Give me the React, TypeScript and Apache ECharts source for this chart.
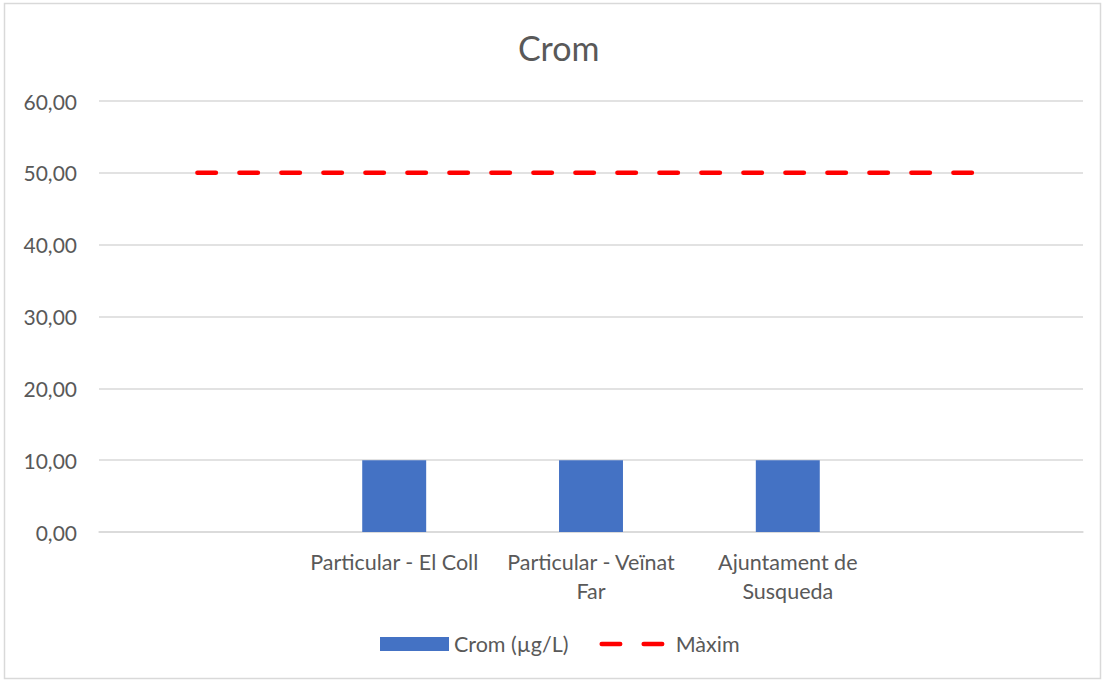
import React, { useEffect, useRef } from "react";
import * as echarts from "echarts";

const categories = ["", "Particular - El Coll", "Particular - Veïnat\nFar", "Ajuntament de\nSusqueda", ""];
const cromValues: (number | string)[] = ["-", 10, 10, 10, "-"];
const maximValues = [50, 50, 50, 50, 50];
const yMin = 0;
const yMax = 60;
const yInterval = 10;

const FONT = "Lato, 'Open Sans', sans-serif";
const TEXT = "#595959";

export default function App() {
  const ref = useRef<HTMLDivElement>(null);
  useEffect(() => {
    document.body.style.margin = "0";
    const chart = echarts.init(ref.current!, null, { renderer: "svg" });
    chart.setOption({
      animation: false,
      backgroundColor: "#ffffff",
      textStyle: { fontFamily: FONT },
      title: {
        text: "Crom",
        left: 513,
        top: 25,
        textStyle: { fontFamily: FONT, fontSize: 34, fontWeight: "normal", color: TEXT },
      },
      graphic: [
        {
          type: "rect",
          shape: { x: 4.5, y: 3.5, width: 1096, height: 675 },
          style: { fill: "none", stroke: "#d9d9d9", lineWidth: 1.5 },
          silent: true,
        },
      ],
      grid: { left: 99, right: 20, top: 101, bottom: 149 },
      legend: {
        bottom: 21,
        left: 375,
        itemWidth: 69,
        itemHeight: 14,
        itemGap: 31,
        textStyle: { fontFamily: FONT, fontSize: 21.5, color: TEXT },
        data: [
          { name: "Crom (µg/L)", icon: "rect" },
          {
            name: "Màxim",
            itemStyle: { opacity: 0 },
            lineStyle: { color: "#FF0000", width: 4.5, type: [18.5, 23.5], cap: "round" },
          },
        ],
      },
      xAxis: {
        type: "category",
        data: categories,
        axisTick: { show: false },
        axisLine: { lineStyle: { color: "#d9d9d9", width: 1.5 } },
        axisLabel: {
          interval: 0,
          fontFamily: FONT,
          fontSize: 21.5,
          color: TEXT,
          margin: 15,
          lineHeight: 29,
        },
      },
      yAxis: {
        type: "value",
        min: yMin,
        max: yMax,
        interval: yInterval,
        axisLine: { show: false },
        axisTick: { show: false },
        splitLine: { lineStyle: { color: "#d9d9d9", width: 1.5 } },
        axisLabel: {
          fontFamily: FONT,
          fontSize: 21,
          color: TEXT,
          margin: 22,
          formatter: (v: number) => v.toFixed(2).replace(".", ","),
        },
      },
      series: [
        {
          name: "Crom (µg/L)",
          type: "bar",
          data: cromValues,
          barWidth: "32.5%",
          itemStyle: { color: "#4472C4" },
        },
        {
          name: "Màxim",
          type: "line",
          data: maximValues,
          symbol: "none",
          itemStyle: { color: "#FF0000" },
          lineStyle: { color: "#FF0000", width: 4.5, type: [18.5, 23.5], cap: "round" },
        },
      ],
    });
    return () => chart.dispose();
  }, []);
  return <div ref={ref} style={{ position: "fixed", left: 0, top: 0, width: 1103, height: 681 }} />;
}
